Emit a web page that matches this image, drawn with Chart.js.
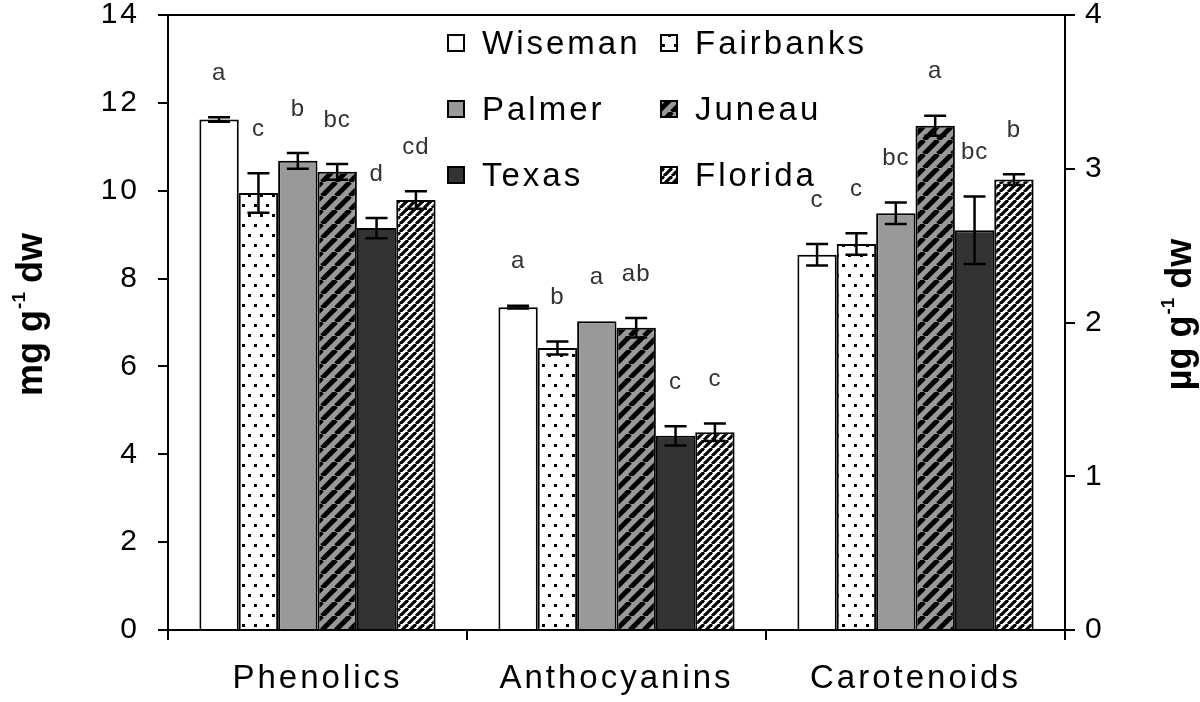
<!DOCTYPE html>
<html>
<head>
<meta charset="utf-8">
<script src="https://cdn.jsdelivr.net/npm/chart.js@4.4.0/dist/chart.umd.min.js"></script>
<style>
    html, body { margin: 0; padding: 0; background: #fff; }
    #wrap { position: relative; width: 1200px; height: 702px; }
</style>
</head>
<body>
<div id="wrap"><canvas id="grafico"></canvas></div>
<script>
const categories = ["Phenolics", "Anthocyanins", "Carotenoids"];
const sites = ["Wiseman", "Fairbanks", "Palmer", "Juneau", "Texas", "Florida"];

// mg g-1 dw (left axis)
const phenolics = [11.62, 9.95, 10.68, 10.43, 9.15, 9.79];
const phenolicsErr = [0.05, 0.45, 0.18, 0.18, 0.23, 0.20];
const anthocyanins = [7.35, 6.42, 7.03, 6.88, 4.42, 4.50];
const anthocyaninsErr = [0.03, 0.15, 0, 0.22, 0.22, 0.20];

// µg g-1 dw (right axis)
const carotenoids = [2.44, 2.51, 2.71, 3.28, 2.60, 2.93];
const carotenoidsErr = [0.07, 0.07, 0.07, 0.065, 0.22, 0.035];

const phenolicsLetters = ["a", "c", "b", "bc", "d", "cd"];
const anthocyaninsLetters = ["a", "b", "a", "ab", "c", "c"];
const carotenoidsLetters = ["c", "c", "bc", "a", "bc", "b"];

const leftTicks = [0, 2, 4, 6, 8, 10, 12, 14];
const rightTicks = [0, 1, 2, 3, 4];

const FONT = "'Liberation Sans', Arial, sans-serif";

function makePattern(w, h, draw) {
    const c = document.createElement("canvas");
    c.width = w;
    c.height = h;
    const g = c.getContext("2d");
    draw(g, w, h);
    return g.createPattern(c, "repeat");
}

const fills = [
    "#ffffff",
    // puntos
    makePattern(12, 20, (g, w, h) => {
        g.fillStyle = "#fff";
        g.fillRect(0, 0, w, h);
        g.fillStyle = "#000";
        g.fillRect(2, 4, 3, 3);
        g.fillRect(8, 14, 3, 3);
    }),
    "#999999",
    // rayas gruesas sobre gris
    makePattern(14, 14, (g, w, h) => {
        g.fillStyle = "#999";
        g.fillRect(0, 0, w, h);
        g.strokeStyle = "#000";
        g.lineWidth = 5;
        [-w, 0, w].forEach(ox => {
            g.beginPath();
            g.moveTo(ox, h);
            g.lineTo(ox + w, 0);
            g.stroke();
        });
    }),
    "#333333",
    // rayas finas
    makePattern(8, 8, (g, w, h) => {
        g.fillStyle = "#fff";
        g.fillRect(0, 0, w, h);
        g.strokeStyle = "#000";
        g.lineWidth = 3.2;
        [-w, 0, w].forEach(ox => {
            g.beginPath();
            g.moveTo(ox, h);
            g.lineTo(ox + w, 0);
            g.stroke();
        });
    })
];

const leftSets = sites.map((s, i) => ({
    label: s,
    data: [phenolics[i], anthocyanins[i], null],
    err: [phenolicsErr[i], anthocyaninsErr[i], null],
    letters: [phenolicsLetters[i], anthocyaninsLetters[i], null],
    yAxisID: "y",
    stack: s,
    backgroundColor: fills[i],
    borderColor: "#000",
    borderWidth: 2
}));

const rightSets = sites.map((s, i) => ({
    label: s + " (carotenoids)",
    data: [null, null, carotenoids[i]],
    err: [null, null, carotenoidsErr[i]],
    letters: [null, null, carotenoidsLetters[i]],
    yAxisID: "y2",
    stack: s,
    backgroundColor: fills[i],
    borderColor: "#000",
    borderWidth: 2
}));

const extras = {
    id: "extras",
    beforeDraw(chart) {
        chart.ctx.letterSpacing = "3px";
    },
    afterDatasetsDraw(chart) {
        const ctx = chart.ctx;
        const area = chart.chartArea;
        ctx.save();

        // marco superior
        ctx.strokeStyle = "#000";
        ctx.lineWidth = 2;
        ctx.beginPath();
        ctx.moveTo(area.left, area.top);
        ctx.lineTo(area.right, area.top);
        ctx.stroke();

        // barras de error y letras
        chart.data.datasets.forEach((ds, di) => {
            const meta = chart.getDatasetMeta(di);
            const scale = chart.scales[ds.yAxisID];
            ds.data.forEach((v, j) => {
                if (v === null) return;
                const bar = meta.data[j];
                const e = ds.err[j] || 0;
                const yTop = scale.getPixelForValue(v + e);
                const yBot = scale.getPixelForValue(v - e);
                if (e > 0) {
                    ctx.strokeStyle = "#000";
                    ctx.lineWidth = 2.5;
                    ctx.beginPath();
                    ctx.moveTo(bar.x, yTop);
                    ctx.lineTo(bar.x, yBot);
                    ctx.moveTo(bar.x - 11, yTop);
                    ctx.lineTo(bar.x + 11, yTop);
                    ctx.moveTo(bar.x - 11, yBot);
                    ctx.lineTo(bar.x + 11, yBot);
                    ctx.stroke();
                }
                ctx.fillStyle = "#333";
                ctx.font = "24px " + FONT;
                ctx.letterSpacing = "1px";
                ctx.textAlign = "center";
                ctx.textBaseline = "middle";
                ctx.fillText(ds.letters[j], bar.x, yTop - 44);
            });
        });

        // leyenda
        ctx.font = "33px " + FONT;
        ctx.letterSpacing = "3px";
        ctx.textAlign = "left";
        ctx.textBaseline = "middle";
        sites.forEach((s, i) => {
            const col = i % 2;
            const row = Math.floor(i / 2);
            const x = area.left + 280 + col * 213;
            const y = area.top + 28 + row * 66;
            ctx.fillStyle = fills[i];
            ctx.fillRect(x, y - 8, 16, 16);
            ctx.strokeStyle = "#000";
            ctx.lineWidth = 2;
            ctx.strokeRect(x, y - 8, 16, 16);
            ctx.fillStyle = "#000";
            ctx.fillText(s, x + 34, y + 2);
        });

        // titulos de ejes
        const midY = (area.top + area.bottom) / 2 - 8;
        drawTitle(ctx, "mg g", " dw", 32, midY);
        drawTitle(ctx, "\u00b5g g", " dw", 1181, midY);

        ctx.restore();
    }
};

function drawTitle(ctx, a, b, x, y) {
    const big = "bold 36px " + FONT;
    const small = "bold 19px " + FONT;
    ctx.save();
    ctx.letterSpacing = "0px";
    ctx.translate(x, y);
    ctx.rotate(-Math.PI / 2);
    ctx.fillStyle = "#000";
    ctx.textAlign = "left";
    ctx.textBaseline = "middle";
    ctx.font = big;
    const wa = ctx.measureText(a).width;
    const wb = ctx.measureText(b).width;
    ctx.font = small;
    const ws = ctx.measureText("-1").width;
    let start = -(wa + ws + wb) / 2;
    ctx.font = big;
    ctx.fillText(a, start, 0);
    ctx.font = small;
    ctx.fillText("-1", start + wa + 1, -12);
    ctx.font = big;
    ctx.fillText(b, start + wa + ws, 0);
    ctx.restore();
}

const axisGrid = {
    drawOnChartArea: false,
    drawTicks: true,
    tickLength: 10,
    color: "#000",
    lineWidth: 2
};

function fixY(width) {
    return s => {
        s.width = width;
        s.paddingTop = 0;
        s.paddingBottom = 0;
    };
}

new Chart(document.getElementById("grafico").getContext("2d"), {
    type: "bar",
    data: {
        labels: categories,
        datasets: [...leftSets, ...rightSets]
    },
    options: {
        responsive: true,
        maintainAspectRatio: false,
        animation: false,
        layout: { padding: { top: 15, left: 0, right: 0, bottom: 0 } },
        datasets: {
            bar: { categoryPercentage: 0.79, barPercentage: 1 }
        },
        scales: {
            x: {
                grid: { ...axisGrid, offset: true },
                border: { display: true, color: "#000", width: 2 },
                ticks: { color: "#000", font: { family: FONT, size: 33 }, padding: 19 },
                afterFit: s => { s.height = 72; }
            },
            y: {
                position: "left",
                stacked: false,
                min: 0,
                max: 14,
                afterBuildTicks: s => { s.ticks = leftTicks.map(v => ({ value: v })); },
                grid: axisGrid,
                border: { display: true, color: "#000", width: 2 },
                ticks: { color: "#000", font: { family: FONT, size: 30 }, padding: 18 },
                afterFit: fixY(168)
            },
            y2: {
                position: "right",
                stacked: false,
                min: 0,
                max: 4,
                afterBuildTicks: s => { s.ticks = rightTicks.map(v => ({ value: v })); },
                grid: axisGrid,
                border: { display: true, color: "#000", width: 2 },
                ticks: { color: "#000", font: { family: FONT, size: 30 }, padding: 10 },
                afterFit: fixY(135)
            }
        },
        plugins: {
            legend: { display: false },
            tooltip: { enabled: false }
        }
    },
    plugins: [extras]
});
</script>
</body>
</html>
